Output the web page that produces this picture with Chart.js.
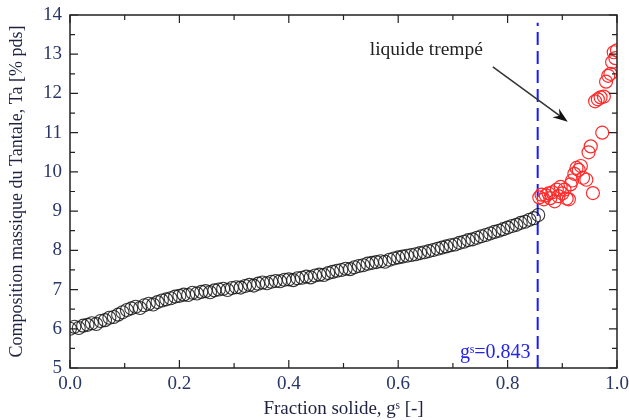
<!DOCTYPE html>
<html>
<head>
<meta charset="utf-8">
<script src="https://cdn.jsdelivr.net/npm/chart.js@4"></script>
<style>
  body { margin: 0; background: #fff; }
  #wrap { width: 629px; height: 420px; }
</style>
</head>
<body>
<div id="wrap"><canvas id="chart"></canvas></div>
<script>
// Solid fraction / Ta composition, solidified part (black)
const fsSolid = [0.000,0.008,0.016,0.024,0.032,0.040,0.048,0.056,0.064,0.072,0.080,0.088,0.096,0.104,0.112,0.120,0.128,0.136,0.144,0.152,0.160,0.168,0.176,0.184,0.192,0.200,0.208,0.216,0.224,0.232,0.240,0.248,0.256,0.264,0.272,0.280,0.288,0.296,0.304,0.312,0.320,0.328,0.336,0.344,0.352,0.360,0.368,0.376,0.384,0.392,0.400,0.408,0.416,0.424,0.432,0.440,0.448,0.456,0.464,0.472,0.480,0.488,0.496,0.504,0.512,0.520,0.528,0.536,0.544,0.552,0.560,0.568,0.576,0.584,0.592,0.600,0.608,0.616,0.624,0.632,0.640,0.648,0.656,0.664,0.672,0.680,0.688,0.696,0.704,0.712,0.720,0.728,0.736,0.744,0.752,0.760,0.768,0.776,0.784,0.792,0.800,0.808,0.816,0.824,0.832,0.840,0.848,0.856];
const taSolid = [6.00,6.05,6.02,6.08,6.10,6.14,6.12,6.20,6.22,6.28,6.30,6.36,6.42,6.48,6.52,6.56,6.53,6.60,6.64,6.62,6.68,6.72,6.75,6.78,6.82,6.84,6.87,6.86,6.92,6.90,6.94,6.96,6.93,6.98,7.00,7.02,6.99,7.04,7.06,7.05,7.09,7.12,7.10,7.15,7.18,7.16,7.20,7.22,7.21,7.25,7.26,7.24,7.29,7.30,7.33,7.31,7.36,7.38,7.37,7.42,7.45,7.48,7.50,7.53,7.52,7.57,7.60,7.62,7.66,7.68,7.70,7.72,7.71,7.76,7.79,7.82,7.84,7.86,7.88,7.90,7.93,7.95,7.98,8.01,8.04,8.07,8.10,8.13,8.15,8.19,8.22,8.26,8.28,8.32,8.36,8.39,8.43,8.47,8.50,8.54,8.58,8.62,8.65,8.70,8.73,8.78,8.82,8.90];

// Quenched liquid (red)
const fsLiquid = [0.858,0.862,0.866,0.870,0.875,0.878,0.882,0.886,0.890,0.893,0.897,0.900,0.904,0.908,0.912,0.915,0.918,0.922,0.926,0.930,0.934,0.938,0.944,0.948,0.952,0.956,0.960,0.965,0.970,0.973,0.976,0.980,0.984,0.988,0.991,0.994,0.997,1.000];
const taLiquid = [9.35,9.42,9.30,9.40,9.45,9.33,9.48,9.25,9.55,9.38,9.62,9.45,9.55,9.32,9.30,9.68,9.78,9.95,10.10,10.05,10.15,9.85,9.80,10.50,10.65,9.46,11.80,11.85,11.90,11.00,11.92,12.30,12.45,12.50,12.80,13.05,12.90,13.10];

// g^s marker line
const gsLineX = [0.855, 0.855];
const gsLineY = [5, 13.8];

const xTicks = [0.0, 0.2, 0.4, 0.6, 0.8, 1.0];
const yTicks = [5, 6, 7, 8, 9, 10, 11, 12, 13, 14];

const toPoints = (xs, ys) => xs.map((x, i) => ({ x: x, y: ys[i] }));

const serif = '"Liberation Serif", "DejaVu Serif", serif';
const labelColor = '#283668';

// Frame, inward ticks and annotations
const framePlugin = {
    id: 'frame',
    afterDatasetsDraw(chart) {
        const ctx = chart.ctx;
        const a = chart.chartArea;
        const xs = chart.scales.x;
        const ys = chart.scales.y;
        ctx.save();
        ctx.strokeStyle = '#222';
        ctx.lineWidth = 1.5;
        ctx.strokeRect(a.left, a.top, a.right - a.left, a.bottom - a.top);

        ctx.lineWidth = 1.2;
        ctx.beginPath();
        for (let i = 0; i <= 10; i++) {
            const v = i / 10;
            const px = xs.getPixelForValue(v);
            const len = i % 2 === 0 ? 8 : 5;
            ctx.moveTo(px, a.bottom); ctx.lineTo(px, a.bottom - len);
            ctx.moveTo(px, a.top); ctx.lineTo(px, a.top + len);
        }
        for (let i = 0; i <= 18; i++) {
            const v = 5 + i / 2;
            const py = ys.getPixelForValue(v);
            const len = i % 2 === 0 ? 8 : 5;
            ctx.moveTo(a.left, py); ctx.lineTo(a.left + len, py);
            ctx.moveTo(a.right, py); ctx.lineTo(a.right - len, py);
        }
        ctx.stroke();

        // annotation text
        ctx.fillStyle = '#222';
        ctx.font = '19.5px ' + serif;
        ctx.textBaseline = 'middle';
        ctx.textAlign = 'left';
        ctx.fillText('liquide trempé', xs.getPixelForValue(0.548), ys.getPixelForValue(13.12));

        // arrow
        const x0 = xs.getPixelForValue(0.773), y0 = ys.getPixelForValue(12.68);
        const x1 = xs.getPixelForValue(0.910), y1 = ys.getPixelForValue(11.28);
        const ang = Math.atan2(y1 - y0, x1 - x0);
        ctx.strokeStyle = '#333';
        ctx.lineWidth = 1.5;
        ctx.beginPath();
        ctx.moveTo(x0, y0);
        ctx.lineTo(x1 - 8 * Math.cos(ang), y1 - 8 * Math.sin(ang));
        ctx.stroke();
        ctx.fillStyle = '#111';
        ctx.beginPath();
        ctx.moveTo(x1, y1);
        ctx.lineTo(x1 - 15 * Math.cos(ang) + 5.5 * Math.sin(ang), y1 - 15 * Math.sin(ang) - 5.5 * Math.cos(ang));
        ctx.lineTo(x1 - 10 * Math.cos(ang), y1 - 10 * Math.sin(ang));
        ctx.lineTo(x1 - 15 * Math.cos(ang) - 5.5 * Math.sin(ang), y1 - 15 * Math.sin(ang) + 5.5 * Math.cos(ang));
        ctx.closePath();
        ctx.fill();

        // g^s label
        ctx.fillStyle = '#2424e6';
        ctx.font = '20px ' + serif;
        ctx.textAlign = 'right';
        ctx.fillText('gˢ=0.843', xs.getPixelForValue(0.842), ys.getPixelForValue(5.38));
        ctx.restore();
    }
};

const ctx = document.getElementById('chart').getContext('2d');
new Chart(ctx, {
    type: 'scatter',
    data: {
        datasets: [{
            label: 'solide',
            data: toPoints(fsSolid, taSolid),
            pointRadius: 6.5,
            pointBorderWidth: 1.1,
            borderColor: 'rgba(20,20,20,0.85)',
            backgroundColor: 'rgba(255,255,255,0)'
        }, {
            label: 'liquide trempé',
            data: toPoints(fsLiquid, taLiquid),
            pointRadius: 6.5,
            pointBorderWidth: 1.2,
            borderColor: '#ff2a2a',
            backgroundColor: 'rgba(255,255,255,0)'
        }, {
            type: 'line',
            label: 'gs',
            data: toPoints(gsLineX, gsLineY),
            showLine: true,
            pointRadius: 0,
            borderColor: '#1a1aff',
            borderWidth: 2,
            borderDash: [13, 6]
        }]
    },
    plugins: [framePlugin],
    options: {
        responsive: true,
        maintainAspectRatio: false,
        animation: false,
        layout: { padding: { left: 0, right: 12, top: 15, bottom: 0 } },
        plugins: {
            legend: { display: false },
            tooltip: { enabled: false }
        },
        scales: {
            x: {
                type: 'linear',
                min: 0,
                max: 1,
                afterBuildTicks: s => { s.ticks = xTicks.map(v => ({ value: v })); },
                afterFit: s => { s.height = 52; s.paddingLeft = 0; s.paddingRight = 0; },
                grid: { display: false, drawTicks: false },
                border: { display: false },
                ticks: {
                    padding: 5,
                    color: labelColor,
                    font: { family: serif, size: 19 },
                    callback: v => v.toFixed(1)
                },
                title: {
                    display: true,
                    text: 'Fraction solide, gˢ [-]',
                    color: '#1e2240',
                    font: { family: serif, size: 19 },
                    padding: { top: 0, bottom: 0 }
                }
            },
            y: {
                type: 'linear',
                min: 5,
                max: 14,
                afterBuildTicks: s => { s.ticks = yTicks.map(v => ({ value: v })); },
                afterFit: s => { s.width = 70; s.paddingTop = 0; s.paddingBottom = 0; },
                grid: { display: false, drawTicks: false },
                border: { display: false },
                ticks: {
                    padding: 8,
                    color: labelColor,
                    font: { family: serif, size: 19 }
                },
                title: {
                    display: true,
                    text: 'Composition massique du Tantale, Ta [% pds]',
                    color: '#1e2240',
                    font: { family: serif, size: 18 },
                    padding: { top: 6, bottom: 0 }
                }
            }
        }
    }
});
</script>
</body>
</html>
